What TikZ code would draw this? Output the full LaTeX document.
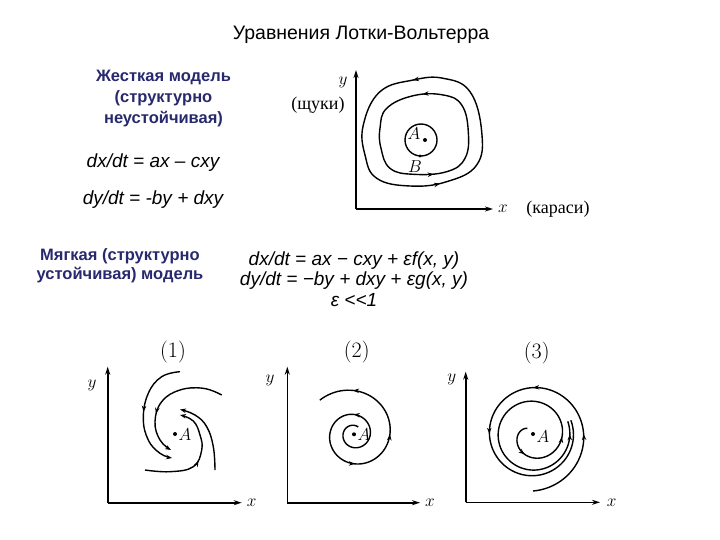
\documentclass[tikz,border=0pt]{standalone}
\usepackage{fontspec}
\setsansfont{Liberation Sans}
\newfontfamily\scanserif{Liberation Serif}
\usetikzlibrary{arrows.meta,positioning,decorations.markings}
\definecolor{modelnavy}{RGB}{40,40,110}
\newcommand{\flowtip}{\arrow{Stealth[length=6pt, width=4.5pt]}}

\begin{document}
\begin{tikzpicture}[x=1pt, y=-1pt,
    axis/.style={line width=1.6pt, -{Stealth[length=8pt, width=5pt]}},
    orbit/.style={line width=1.4pt, line join=round},
    tipend/.style={-{Stealth[length=6pt, width=4.5pt]}},
    flow/.style={postaction={decorate}},
    modeltext/.style={font=\sffamily\bfseries\fontsize{16.5}{21}\selectfont, text=modelnavy, align=center},
    eqn/.style={font=\sffamily\itshape\fontsize{19}{20.5}\selectfont, align=center},
    axlabel/.style={font=\fontsize{18}{20}\selectfont, inner sep=1pt},
    caselabel/.style={font=\fontsize{22}{24}\selectfont},
    scanlabel/.style={font=\scanserif\fontsize{18}{20}\selectfont}]
    \useasboundingbox (0,0) rectangle (720,540);

    % Title and texts
    \node[font=\sffamily\fontsize{19.5}{22}\selectfont] (title) at (361,35) {Уравнения Лотки-Вольтерра};
    \node[modeltext] (hard) at (163.5,99) {Жесткая модель\\(структурно\\неустойчивая)};
    \node[eqn] (hardx) at (153,163) {dx/dt = ax – cxy};
    \node[eqn] (hardy) at (153,200) {dy/dt = -by + dxy};
    \node[modeltext, font=\sffamily\bfseries\fontsize{16.5}{19}\selectfont] (soft) at (120,266) {Мягкая (структурно\\устойчивая) модель};
    \node[eqn] (softeq) at (354,279) {dx/dt = ax − cxy + εf(x, y)\\dy/dt = −by + dxy + εg(x, y)\\ε <{}<1};

    % Conservative model: closed orbits
    \draw[axis] (356,209) -- (356,70);
    \draw[axis] (356,209) -- (493,209);
    \node[axlabel] (ytop) at (343,82) {$y$};
    \node[scanlabel] (pike) at (318,105) {(щуки)};
    \node[axlabel] (xtop) at (503,209) {$x$};
    \node[scanlabel] (carp) at (558,209) {(караси)};
    \draw[orbit, flow, decoration={markings, mark=at position 0.244 with {\flowtip}, mark=at position 0.724 with {\flowtip}}]
        plot[smooth cycle, tension=0.7] coordinates {(363.3,125) (365,155) (376.7,178.3) (410,186) (446.7,181.7) (476.7,165) (481.7,131.7) (470,91.7) (443.3,78.3) (413.3,80) (380,91.7)};
    \draw[orbit, flow, decoration={markings, mark=at position 0.238 with {\flowtip}, mark=at position 0.713 with {\flowtip}}]
        plot[smooth cycle, tension=0.7] coordinates {(380,128.3) (381,148.3) (390,168.3) (413.3,174.3) (446.7,171.7) (465,158.3) (468.3,131.7) (461.7,105) (443.3,95) (413.3,95.7) (386.7,108.3)};
    \draw[orbit] (421,140) circle (16pt);
    \fill (425,140) circle (2pt);
    \fill (420,156) circle (1.6pt);
    \node[axlabel] (ptA) at (414,134) {$A$};
    \node[axlabel] (ptB) at (415,167) {$B$};

    % (1) stable focus
    \draw[axis] (107.7,502.7) -- (107.7,366.7);
    \draw[axis] (107.7,502.7) -- (241.7,502.7);
    \node[axlabel] (y1) at (92,385) {$y$};
    \node[axlabel] (x1) at (251.7,502.7) {$x$};
    \node[caselabel] (case1) at (173,351.7) {(1)};
    \draw[orbit, tipend, flow, decoration={markings, mark=at position 0.5 with {\flowtip}}]
        plot[smooth, tension=0.7] coordinates {(180,371.7) (161.7,376.7) (148.3,393.3) (143.3,418.3) (148.3,440) (160,453.3) (172,458)};
    \draw[orbit, tipend, flow, decoration={markings, mark=at position 0.65 with {\flowtip}}]
        plot[smooth, tension=0.7] coordinates {(221.7,395) (203.3,388.3) (180,390) (161.7,401.7) (155,421.7) (160,440) (171,450)};
    \draw[orbit, tipend]
        plot[smooth, tension=0.7] coordinates {(215,470) (213.3,446.7) (206.7,426.7) (195,415) (180,409.5)};
    \draw[orbit, tipend, flow, decoration={markings, mark=at position 0.5 with {\flowtip}}]
        plot[smooth, tension=0.7] coordinates {(145,470) (170,471.7) (193.3,466.7) (201.7,450) (200,435) (193.3,421) (180,415)};
    \fill (175,434) circle (2pt);
    \node[axlabel] (A1) at (185,435) {$A$};

    % (2) unstable focus
    \draw[axis] (287.3,502.7) -- (287.3,366.7);
    \draw[axis] (287.3,502.7) -- (420,502.7);
    \node[axlabel] (y2) at (270,380) {$y$};
    \node[axlabel] (x2) at (430,502.7) {$x$};
    \node[caselabel] (case2) at (356.7,351.7) {(2)};
    \draw[orbit, flow, decoration={markings, mark=at position 0.287 with {\flowtip}, mark=at position 0.53 with {\flowtip}, mark=at position 0.689 with {\flowtip}, mark=at position 0.889 with {\flowtip}}]
        plot[domain=60:855, samples=200] ({354+9*exp(0.00219*(\x-90))*cos(\x)}, {434.3-9*exp(0.00219*(\x-90))*sin(\x)});
    \fill (354,434.3) circle (2pt);
    \node[axlabel] (A2) at (364,435) {$A$};

    % (3) limit cycle
    \draw[axis] (465.7,502.3) -- (465.7,371.7);
    \draw[axis] (465.7,502.3) -- (600,502.3);
    \node[axlabel] (y3) at (451.7,379.3) {$y$};
    \node[axlabel] (x3) at (611.7,503) {$x$};
    \node[caselabel] (case3) at (536.7,353.3) {(3)};
    \draw[orbit, flow, decoration={markings, mark=at position 0.109 with {\flowtip}, mark=at position 0.264 with {\flowtip}, mark=at position 0.958 with {\flowtip}}]
        plot[domain=135:740, samples=200] ({533+(38-30*exp(-(\x-135)/180))*cos(\x)}, {434-(38-30*exp(-(\x-135)/180))*sin(\x)});
    \draw[orbit, flow, decoration={markings, mark=at position 0.224 with {\flowtip}, mark=at position 0.426 with {\flowtip}, mark=at position 0.613 with {\flowtip}}]
        plot[domain=270:740, samples=200] ({533+(38+19*exp(-(\x-270)/220))*cos(\x)}, {434-(38+19*exp(-(\x-270)/220))*sin(\x)});
    \fill (533,434) circle (2pt);
    \node[axlabel] (A3) at (543,437) {$A$};
\end{tikzpicture}
\end{document}
